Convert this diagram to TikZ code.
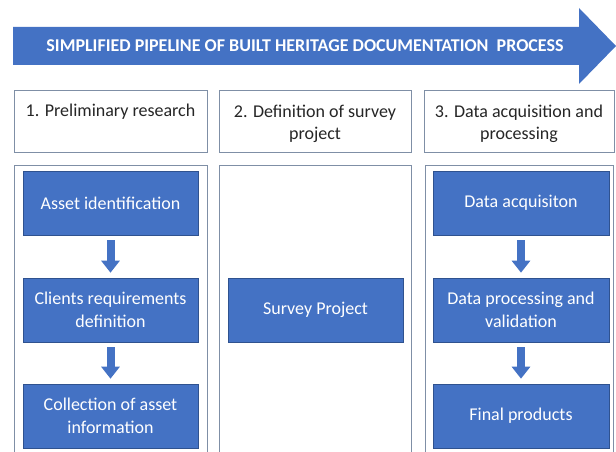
\documentclass[tikz,border=0pt]{standalone}
\usepackage{fontspec}
\setmainfont{Carlito}
\usetikzlibrary{arrows.meta}
\definecolor{officeblue}{HTML}{4472C4}
\definecolor{blueedge}{HTML}{2F528F}
\definecolor{frameline}{HTML}{7F8FA6}
\definecolor{textdark}{HTML}{262626}
\tikzset{
  headbox/.style={draw=frameline, line width=0.8pt, fill=white, minimum height=62pt, inner sep=0pt},
  headtext/.style={inner sep=2pt, align=center, text=textdark, font=\fontsize{18}{22.5}\selectfont},
  bluebox/.style={draw=blueedge, line width=0.6pt, fill=officeblue, minimum height=64pt, inner sep=2pt,
    align=center, text=white, font=\fontsize{18}{23}\selectfont},
  column/.style={draw=frameline, line width=0.8pt},
  flowarrow/.style={draw=officeblue, line width=8pt, shorten <=5pt, shorten >=5pt,
    -{Triangle[width=18pt,length=12pt,fill=officeblue]}}
}
\begin{document}
\begin{tikzpicture}[x=1pt,y=-1pt]
\useasboundingbox (0,0) rectangle (616,452);
% title arrow
\fill[officeblue] (13,27) -- (579,27) -- (579,8) -- (616,46) -- (579,84) -- (579,65) -- (13,65) -- cycle;
\node[text=white, font=\bfseries\fontsize{18}{20}\selectfont] (title) at (305,46)
  {SIMPLIFIED PIPELINE OF BUILT HERITAGE DOCUMENTATION\ \ PROCESS};
% header boxes
\node[headbox, minimum width=193pt] (h1) at (110.5,121) {};
\node[headbox, minimum width=192pt] (h2) at (315,121) {};
\node[headbox, minimum width=190pt] (h3) at (519,121) {};
\node[headtext] (h1t) at ([yshift=-4pt]h1.center) {1. Preliminary research\\\strut};
\node[headtext] (h2t) at ([yshift=-3pt]h2.center) {2. Definition of survey\\project};
\node[headtext] (h3t) at ([yshift=-3pt]h3.center) {3. Data acquisition and\\processing};
% column frames (open at the bottom)
\draw[column] (14,460) -- (14,165) -- (207,165) -- (207,460);
\draw[column] (219,460) -- (219,165) -- (411,165) -- (411,460);
\draw[column] (425,460) -- (425,165) -- (613,165) -- (613,460);
% column 1
\node[bluebox, minimum width=175pt] (a1) at (110.5,203) {Asset identification};
\node[bluebox, minimum width=175pt] (a2) at (110.5,310) {Clients requirements\\definition};
\node[bluebox, minimum width=175pt] (a3) at (110.5,416) {Collection of asset\\information};
% column 2
\node[bluebox, minimum width=175pt] (b1) at (315.5,310) {Survey Project};
% column 3
\node[bluebox, minimum width=176pt] (c1) at (521,203) {Data acquisiton};
\node[bluebox, minimum width=176pt] (c2) at (521,310) {Data processing and\\validation};
\node[bluebox, minimum width=176pt] (c3) at (521,416) {Final products};
% arrows
\draw[flowarrow] (a1.south) -- (a2.north);
\draw[flowarrow] (a2.south) -- (a3.north);
\draw[flowarrow] (c1.south) -- (c2.north);
\draw[flowarrow] (c2.south) -- (c3.north);
\end{tikzpicture}
\end{document}
